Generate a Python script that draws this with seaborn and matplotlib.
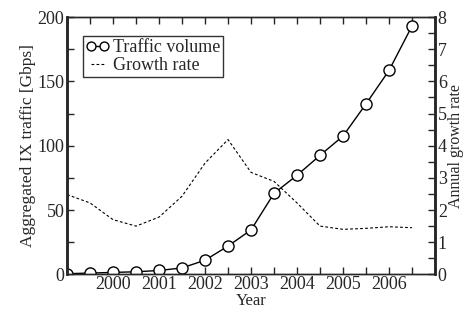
import numpy as np
import pandas as pd
import matplotlib
matplotlib.use("Agg")
import matplotlib.pyplot as plt
from matplotlib.ticker import MultipleLocator
import seaborn as sns

years = [1999.0, 1999.5, 2000.0, 2000.5, 2001.0, 2001.5, 2002.0, 2002.5,
         2003.0, 2003.5, 2004.0, 2004.5, 2005.0, 2005.5, 2006.0, 2006.5]
traffic = [0.5, 1.0, 1.5, 2.0, 3.0, 5.0, 11.0, 22.0,
           34.5, 63.0, 77.0, 92.5, 107.5, 132.5, 158.5, 193.0]
growth = [2.48, 2.22, 1.70, 1.50, 1.78, 2.43, 3.46, 4.19,
          3.17, 2.89, 2.22, 1.50, 1.40, 1.43, 1.48, 1.45]
year_labels = ["2000", "2001", "2002", "2003", "2004", "2005", "2006"]

df = pd.DataFrame({"year": years, "traffic": traffic, "growth": growth})

sns.set_style("ticks")
plt.rcParams["font.family"] = ["Liberation Serif", "DejaVu Serif"]
plt.rcParams["font.size"] = 13
plt.rcParams["xtick.direction"] = "in"
plt.rcParams["ytick.direction"] = "in"

fig, ax = plt.subplots(figsize=(4.69, 3.10), dpi=100)
fig.subplots_adjust(left=0.143, right=0.9275, top=0.945, bottom=0.115)
ax2 = ax.twinx()

sns.lineplot(data=df, x="year", y="traffic", ax=ax, color="black", lw=1.0,
             marker="o", markersize=8, markerfacecolor="white",
             markeredgecolor="black", markeredgewidth=1.0,
             label="Traffic volume", legend=False)
sns.lineplot(data=df, x="year", y="growth", ax=ax2, color="black", lw=0.8,
             dashes=False, linestyle=(0, (2.5, 2)), label="Growth rate", legend=False)

ax.set_xlim(1999, 2007)
ax.set_ylim(0, 200)
ax2.set_ylim(0, 8)
ax.set_xticks([2000, 2001, 2002, 2003, 2004, 2005, 2006])
ax.set_xticklabels(year_labels)
ax.xaxis.set_minor_locator(MultipleLocator(0.5))
ax.yaxis.set_major_locator(MultipleLocator(50))
ax.yaxis.set_minor_locator(MultipleLocator(25))
ax2.yaxis.set_major_locator(MultipleLocator(1))
ax2.yaxis.set_minor_locator(MultipleLocator(0.5))

for a in (ax, ax2):
    a.tick_params(which="both", direction="in", top=True, labelsize=13, pad=2)
    a.tick_params(which="major", length=5, width=1)
    a.tick_params(which="minor", length=5, width=1)
    for s in a.spines.values():
        s.set_visible(True)
        s.set_linewidth(1.0)
    a.spines["left"].set_linewidth(1.8)
    a.spines["right"].set_linewidth(1.8)
ax.tick_params(which="both", right=False)
ax.tick_params(axis="x", pad=1.5)
ax2.tick_params(which="both", left=False, right=True, top=False)

ax.set_xlabel("Year", fontsize=12, labelpad=0)
ax.set_ylabel("Aggregated IX traffic [Gbps]", fontsize=12.5, labelpad=1)
ax2.set_ylabel("Annual growth rate", fontsize=11.5, labelpad=1)

h1, l1 = ax.get_legend_handles_labels()
h2, l2 = ax2.get_legend_handles_labels()
leg = ax.legend(h1 + h2, l1 + l2, loc="upper left", bbox_to_anchor=(0.043, 0.925),
                numpoints=2, handlelength=1.3, handletextpad=0.2, fontsize=13,
                markerscale=0.8, frameon=True, fancybox=False, borderpad=0.15,
                labelspacing=0.05, borderaxespad=0)
leg.get_frame().set_edgecolor("black")
leg.get_frame().set_linewidth(1.0)

fig.savefig("out.png", dpi=100)
